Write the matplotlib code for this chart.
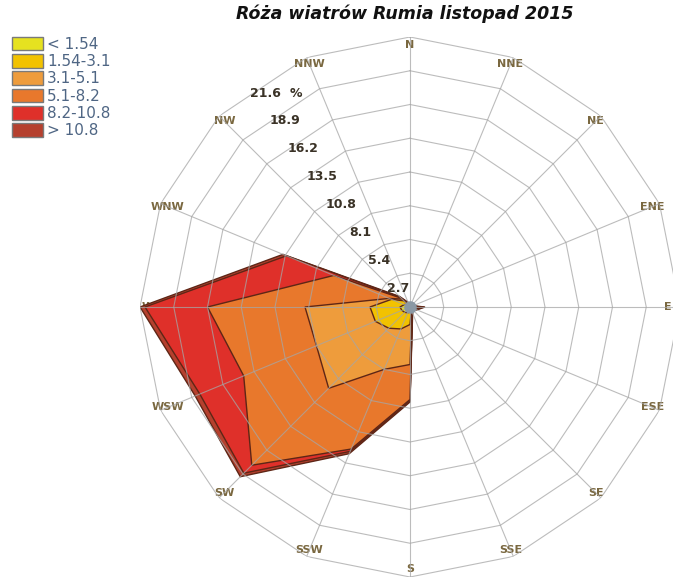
import numpy as np
import matplotlib
matplotlib.use('Agg')
import matplotlib.pyplot as plt
from matplotlib.patches import Patch

# Wind directions (compass order, clockwise from N)
directions = ['N', 'NNE', 'NE', 'ENE', 'E', 'ESE', 'SE', 'SSE',
              'S', 'SSW', 'SW', 'WSW', 'W', 'WNW', 'NW', 'NNW']

# Frequency [%] per speed class and direction
speed_classes = ['< 1.54', '1.54-3.1', '3.1-5.1', '5.1-8.2', '8.2-10.8', '> 10.8']
freq_lt154 = [0.1, 0.1, 0.1, 0.1, 0.1, 0.1, 0.1, 0.1, 0.4, 0.5, 0.6, 0.7, 0.8, 0.5, 0.3, 0.1]
freq_154_31 = [0.05, 0.0, 0.0, 0.0, 0.1, 0.05, 0.0, 0.2, 1.0, 1.4, 1.8, 2.3, 2.4, 1.1, 0.4, 0.1]
freq_31_51 = [0.05, 0.05, 0.0, 0.05, 0.3, 0.15, 0.05, 0.1, 3.2, 3.5, 6.8, 5.1, 5.2, 0.2, 0.2, 0.1]
freq_51_82 = [0.0, 0.0, 0.0, 0.05, 0.4, 0.15, 0.05, 0.1, 2.8, 6.9, 8.7, 6.3, 7.8, 4.8, 0.1, 0.0]
freq_82_108 = [0.05, 0.05, 0.05, 0.0, 0.2, 0.1, 0.0, 0.0, 0.1, 0.2, 0.9, 3.8, 5.0, 4.1, 0.1, 0.05]
freq_gt108 = [0.05, 0.0, 0.0, 0.05, 0.1, 0.05, 0.05, 0.05, 0.1, 0.2, 0.4, 0.4, 0.4, 0.3, 0.1, 0.05]

ring_values = [2.7, 5.4, 8.1, 10.8, 13.5, 16.2, 18.9, 21.6]

colors = ['#E6E220', '#F2C200', '#EE9C3C', '#E8782C', '#DF302A', '#B5402E']
edge_col = '#5e2616'
grid_col = '#a6a6a6'

freqs = np.array([freq_lt154, freq_154_31, freq_31_51, freq_51_82, freq_82_108, freq_gt108])
cumulative = np.cumsum(freqs, axis=0)

theta = np.deg2rad(np.arange(16) * 22.5)
theta_c = np.append(theta, theta[0])

fig = plt.figure(figsize=(6.73, 5.80), dpi=100)
ax = fig.add_axes([140 / 673, 3 / 580, 540 / 673, 540 / 580], projection='polar')
ax.set_theta_zero_location('N')
ax.set_theta_direction(-1)
ax.set_ylim(0, ring_values[-1])
ax.set_axis_off()

# direction labels (drawn under the polygons)
for t, d in zip(theta, directions):
    r_lab = 20.6 if d == 'E' else 21.0
    ax.text(t, r_lab, d, ha='center', va='center', fontsize=8, fontweight='bold',
            color='#7a6840', zorder=0.5)

# stacked polygons, largest first
for i in range(len(speed_classes) - 1, -1, -1):
    r = np.append(cumulative[i], cumulative[i][0])
    ax.fill(theta_c, r, facecolor=colors[i], edgecolor=edge_col, linewidth=1.0, zorder=1)

# polygonal grid
for v in ring_values:
    ax.plot(theta_c, [v] * 17, color=grid_col, lw=0.8, alpha=0.75, zorder=2)
for t in theta:
    ax.plot([t, t], [0, ring_values[-1]], color=grid_col, lw=0.8, alpha=0.75, zorder=2)

# calm marker
ax.plot(0, 0, 'o', ms=8, color='#8a98a4', zorder=3)

# radial labels
lab_theta = np.deg2rad(326)
for v in ring_values:
    ax.text(lab_theta, v - 0.95, f'{v:.1f}', ha='center', va='center', fontsize=9,
            fontweight='bold', color='#3a3226', zorder=4)
ax.annotate('%', xy=(lab_theta, ring_values[-1] - 0.95), xytext=(17, 0),
            textcoords='offset points', ha='left', va='center', fontsize=9,
            fontweight='bold', color='#3a3226')

fig.text(0.602, 0.976, 'Róża wiatrów Rumia listopad 2015', ha='center', va='center',
         fontsize=12.5, fontweight='bold', style='italic', color='#111111')

handles = [Patch(facecolor=c, edgecolor='#7a7a7a', linewidth=1.0) for c in colors]
leg = fig.legend(handles, speed_classes, loc='upper left', bbox_to_anchor=(0.018, 0.937),
                 frameon=False, fontsize=11, handlelength=2.0, handleheight=1.0,
                 labelspacing=0.15, handletextpad=0.3, borderpad=0, borderaxespad=0)
for txt in leg.get_texts():
    txt.set_color('#4f6684')

fig.savefig('out.png', dpi=100)
